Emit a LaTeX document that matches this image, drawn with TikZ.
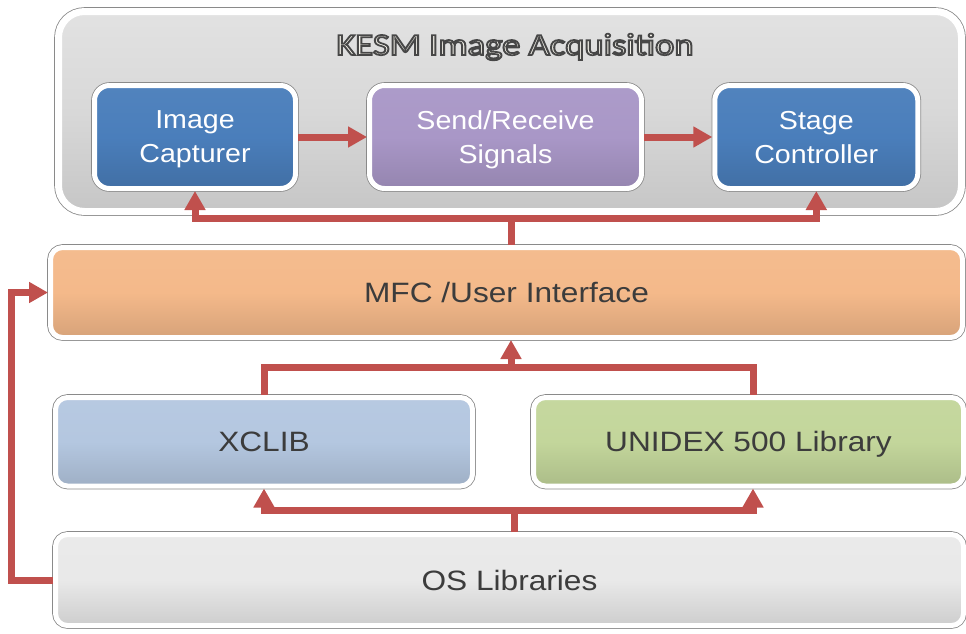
\documentclass[tikz,border=0pt]{standalone}
\usepackage{fontspec}
\usepackage{graphicx}
\setmainfont{Liberation Sans}
\newfontfamily\titlefont{Carlito}
\usetikzlibrary{arrows.meta,calc}
\definecolor{cred}{HTML}{C0504D}
\definecolor{cblue}{HTML}{4A7EBB}
\definecolor{cpurple}{HTML}{A997C7}
\definecolor{corange}{HTML}{F4B98A}
\definecolor{clblue}{HTML}{B4C7E0}
\definecolor{cgreen}{HTML}{C3D69B}
\definecolor{cos}{HTML}{E9E9E9}
\definecolor{ctext}{HTML}{3C3C3C}
\definecolor{cedge}{HTML}{8A8A8A}
\definecolor{kesmtop}{HTML}{E2E2E2}
\definecolor{kesmbot}{HTML}{C6C6C6}
\definecolor{ctitle}{HTML}{F4F2EA}
\newcommand{\hs}[2]{\scalebox{#1}[1]{#2}}
\newcommand{\outl}[1]{\special{pdf:literal direct 0.28 0.28 0.28 RG 1.7 w 2 Tr}#1\special{pdf:literal direct 0 Tr}}
\tikzset{
  rim/.style={draw=white, line width=5pt, preaction={draw=cedge, line width=6.6pt}, inner sep=0pt},
  bigrim/.style={draw=white, line width=7pt, preaction={draw=cedge, line width=8.6pt}, inner sep=0pt},
  shadeof/.style={shading=axis, top color=#1!96!white, bottom color=#1!88!black, middle color=#1},
  topfont/.style={font={\fontsize{26}{34}\selectfont}, text=white, align=center},
  lowfont/.style={font={\fontsize{28}{34}\selectfont}, text=ctext, text depth=0pt},
  conn/.style={draw=cred, line width=7pt},
  arr/.style={conn, -{Triangle[length=19pt,width=20pt]}}
}
\begin{document}
\begin{tikzpicture}[x=1pt,y=-1pt]
\fill[white] (0,0) rectangle (966,633);
\useasboundingbox (0,0) rectangle (966,633);

% top container
\node[bigrim, rounded corners=26pt, shading=axis, top color=kesmtop, bottom color=kesmbot, middle color=kesmtop!65!kesmbot,
      minimum width=903pt, minimum height=200pt] (kesm) at (510,111.5) {};
\node[font={\titlefont\fontsize{31}{36}\selectfont}, text=ctitle, text height=20pt, text depth=0pt, inner sep=0pt]
      (title) at (515,45) {\hs{1.18}{\outl{KESM Image Acquisition}}};

\node[rim, rounded corners=15pt, shadeof=cblue, minimum width=201pt, minimum height=103pt, topfont]
      (ic) at (195,137) {\hs{1.1}{Image}\\\smash{\hs{1.1}{Capturer}}};
\node[rim, rounded corners=15pt, shadeof=cpurple, minimum width=272pt, minimum height=103pt, topfont]
      (sr) at (505.5,137) {\hs{1.1}{Send/Receive}\\\smash{\hs{1.1}{Signals}}};
\node[rim, rounded corners=15pt, shadeof=cblue, minimum width=203pt, minimum height=103pt, topfont]
      (sc) at (816.3,137) {\hs{1.1}{Stage}\\\smash{\hs{1.1}{Controller}}};

% layers
\node[rim, rounded corners=12pt, shadeof=corange, minimum width=912pt, minimum height=90pt, lowfont]
      (mfc) at (506.5,292.5) {\hs{1.13}{MFC /User Interface}};
\node[rim, rounded corners=12pt, shadeof=clblue, minimum width=417pt, minimum height=88.5pt, lowfont]
      (xclib) at (264,441.75) {\hs{1.13}{XCLIB}};
\node[rim, rounded corners=12pt, shadeof=cgreen, minimum width=430pt, minimum height=88.5pt, lowfont]
      (unidex) at (748.5,441.75) {\hs{1.13}{UNIDEX 500 Library}};
\node[rim, rounded corners=12pt, shadeof=cos, minimum width=908pt, minimum height=91pt, lowfont]
      (os) at (509.5,580) {\hs{1.13}{OS Libraries}};

% connectors inside KESM
\draw[arr] (ic.east) -- (sr.west);
\draw[arr] (sr.east) -- (sc.west);

% MFC -> Image Capturer / Stage Controller
\coordinate (j1) at (511,218);
\draw[conn] (j1 |- mfc.north) -- (j1);
\draw[arr] (j1) -| (ic.south);
\draw[arr] (j1) -| (sc.south);

% XCLIB / UNIDEX -> MFC
\coordinate (j2) at (511,367);
\coordinate (ux) at ([xshift=4.5pt]unidex.north);
\draw[conn] (xclib.north) -- (xclib.north |- j2) -- (ux |- j2) -- (ux);
\draw[arr] (j2) -- (j2 |- mfc.south);

% OS -> XCLIB / UNIDEX
\coordinate (j3) at (514,510);
\coordinate (ud) at ([xshift=4.5pt]unidex.south);
\draw[conn] (j3 |- os.north) -- (j3);
\draw[arr] (j3) -| (xclib.south);
\draw[arr] (j3) -| (ud);

% OS -> MFC loop
\draw[arr] (os.west) -- ++(-41.5,0) |- (mfc.west);
\end{tikzpicture}
\end{document}
